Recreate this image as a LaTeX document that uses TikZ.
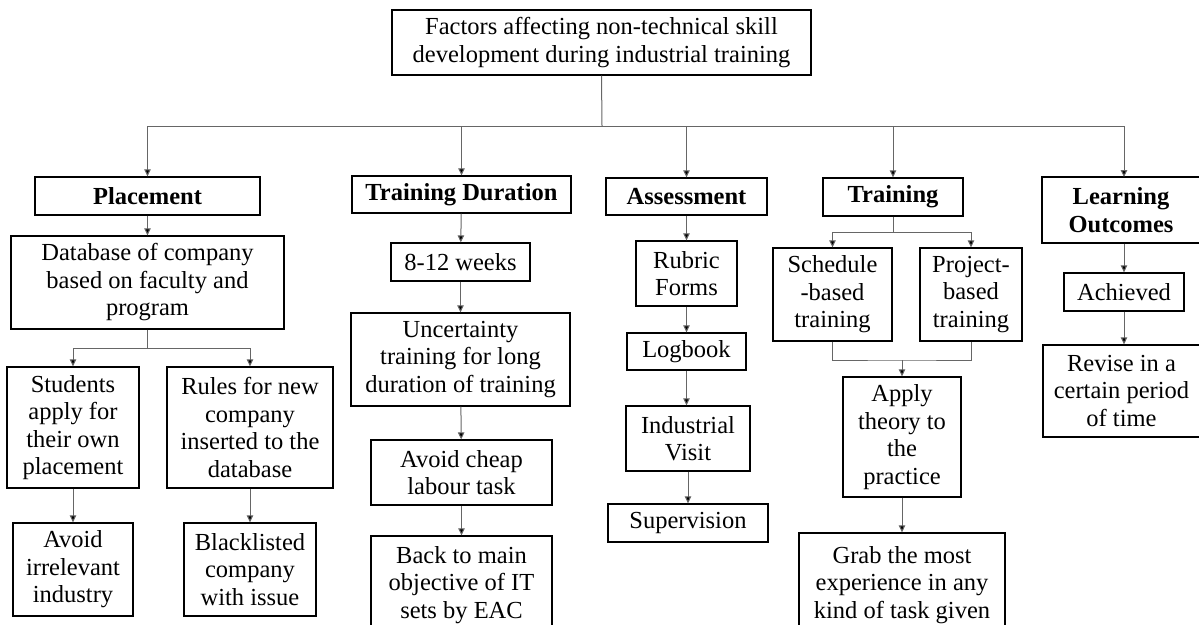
\documentclass[tikz,border=0pt]{standalone}
\usepackage{fontspec}
\setmainfont{Liberation Serif}
\usetikzlibrary{arrows.meta}
\begin{document}
\begin{tikzpicture}[x=1pt,y=-1pt,
  box/.style={draw=black, line width=1.3pt, inner sep=0pt, align=center,
    font=\fontsize{24.5}{27.5}\selectfont},
  hd/.style={box, font=\fontsize{24.5}{27.5}\selectfont\bfseries},
  ln/.style={draw=black!60, line width=1pt},
  arr/.style={ln, -{Triangle[length=7pt,width=6.5pt,fill=black]}}]
\useasboundingbox (0,0) rectangle (1199,624);
% title
\node[box, minimum width=419pt, minimum height=65pt] (title) at (601.5,42.5)
  {Factors affecting non-technical skill\\development during industrial training};
% level 1
\node[hd, minimum width=225pt, minimum height=38pt] (plac) at (147.5,196) {Placement};
\node[hd, minimum width=219pt, minimum height=37pt] (tdur) at (461.5,194.5) {Training Duration};
\node[hd, minimum width=161pt, minimum height=37pt] (asse) at (686.5,196.5) {Assessment};
\node[hd, minimum width=140pt, minimum height=38pt] (trai) at (893,197) {Training};
\node[hd, minimum width=158pt, minimum height=66pt] (lout) at (1121,210) {Learning\\Outcomes};
% placement branch
\node[box, minimum width=273pt, minimum height=93pt] (dbase) at (147.5,282.5)
  {Database of company\\based on faculty and\\program};
\node[box, minimum width=132pt, minimum height=121pt] (stud) at (73,427.5)
  {Students\\apply for\\their own\\placement};
\node[box, minimum width=166pt, minimum height=121pt] (rule) at (250,427.5)
  {Rules for new\\company\\inserted to the\\database};
\node[box, minimum width=120pt, minimum height=93pt] (airr) at (73,569.5)
  {Avoid\\irrelevant\\industry};
\node[box, minimum width=132pt, minimum height=93pt] (blck) at (250,569.5)
  {Blacklisted\\company\\with issue};
% training duration branch
\node[box, minimum width=139pt, minimum height=38pt] (week) at (460.5,262) {8-12 weeks};
\node[box, minimum width=219pt, minimum height=93pt] (unce) at (460.5,359.5)
  {Uncertainty\\training for long\\duration of training};
\node[box, minimum width=181pt, minimum height=65pt] (chea) at (461.5,472.5)
  {Avoid cheap\\labour task};
\node[box, minimum width=181pt, minimum height=98pt] (back) at (461.5,585)
  {Back to main\\objective of IT\\sets by EAC};
% assessment branch
\node[box, minimum width=101pt, minimum height=65pt] (rubr) at (686.5,273.5) {Rubric\\Forms};
\node[box, minimum width=119pt, minimum height=37pt] (logb) at (686.5,351.5) {Logbook};
\node[box, minimum width=124pt, minimum height=65pt] (visi) at (688,438.5) {Industrial\\Visit};
\node[box, minimum width=160pt, minimum height=38pt] (supe) at (688,523) {Supervision};
% training branch
\node[box, minimum width=119pt, minimum height=93pt] (sche) at (832.5,294.5)
  {Schedule\\-based\\training};
\node[box, minimum width=102pt, minimum height=93pt] (proj) at (971,294.5)
  {Project-\\based\\training};
\node[box, minimum width=118pt, minimum height=120pt] (appl) at (902,437)
  {Apply\\theory to\\the\\practice};
\node[box, minimum width=206pt, minimum height=104pt] (grab) at (902,585)
  {Grab the most\\experience in any\\kind of task given};
% learning outcomes branch
\node[box, minimum width=120pt, minimum height=38pt] (achi) at (1124,292) {Achieved};
\node[box, minimum width=157pt, minimum height=92pt] (revi) at (1121.5,391)
  {Revise in a\\certain period\\of time};
% connectors
\coordinate (bus) at (602,126);
\coordinate (loin) at (1124,177);
\draw[ln] (title.south) -- (bus);
\draw[arr] (bus) -| (plac.north);
\draw[arr] (bus) -| (tdur.north);
\draw[arr] (bus) -| (asse.north);
\draw[arr] (bus) -| (trai.north);
\draw[arr] (bus) -| (loin);
\draw[arr] (plac) -- (dbase);
\coordinate (dsplit) at (147.5,348);
\draw[ln] (dbase.south) -- (dsplit);
\draw[arr] (dsplit) -| (stud.north);
\draw[arr] (dsplit) -| (rule.north);
\draw[arr] (stud) -- (airr);
\draw[arr] (rule) -- (blck);
\draw[arr] (tdur) -- (week);
\draw[arr] (week) -- (unce);
\draw[arr] (unce) -- (chea);
\draw[arr] (chea) -- (back);
\draw[arr] (asse) -- (rubr);
\draw[arr] (rubr) -- (logb);
\draw[arr] (logb.south) -- (logb.south |- visi.north);
\draw[arr] (visi) -- (supe);
\coordinate (tsplit) at (893,232);
\draw[ln] (trai.south) -- (tsplit);
\draw[arr] (tsplit) -| (sche.north);
\draw[arr] (tsplit) -| (proj.north);
\coordinate (mjoin) at (902,360);
\draw[ln] (sche.south) |- (mjoin) -| (proj.south);
\draw[arr] (mjoin) -- (appl.north);
\draw[arr] (appl) -- (grab);
\draw[arr] (lout.south -| achi.north) -- (achi.north);
\draw[arr] (achi) -- (achi.south |- revi.north);
\end{tikzpicture}
\end{document}
